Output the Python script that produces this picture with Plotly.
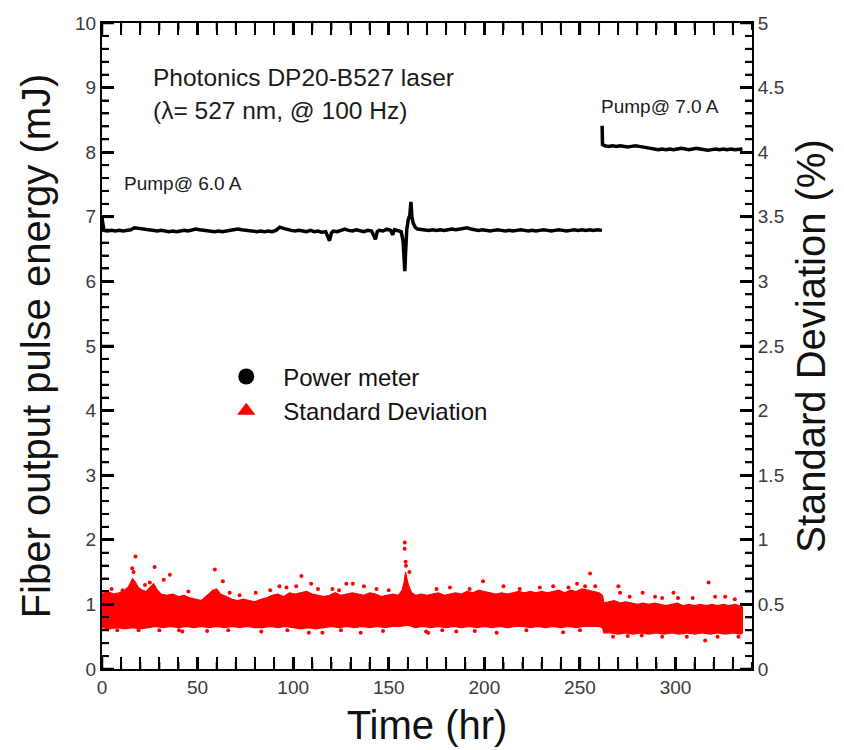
import plotly.graph_objects as go

# ---- Power meter (left axis, mJ) ----
pm1_t = [0, 0.5, 1, 3, 5, 7, 9, 11, 13, 15, 17, 19, 21, 23, 25, 27, 29, 31, 33, 35, 37, 39, 41, 43, 45,
         47, 49, 51, 53, 55, 57, 59, 61, 63, 65, 67, 69, 71, 73, 75, 77, 79, 81, 83, 85, 87, 89, 91, 93,
         95, 97, 99, 101, 103, 105, 107, 109, 111, 113, 115, 117, 118, 119, 120, 121, 123, 125, 127, 129,
         131, 133, 135, 137, 139, 141, 142, 143, 144, 145, 147, 149, 151, 152, 153, 155, 156.5, 157.5,
         158, 158.4, 158.8, 159.4, 160.2, 161, 161.6, 162.1, 162.8, 163.8, 165, 167, 169, 171, 173, 175,
         177, 179, 181, 183, 185, 187, 189, 191, 193, 195, 197, 199, 201, 203, 205, 207, 209, 211, 213,
         215, 217, 219, 221, 223, 225, 227, 229, 231, 233, 235, 237, 239, 241, 243, 245, 247, 249, 251,
         253, 255, 257, 259, 261.5]
pm1_v = [6.98, 6.86, 6.79, 6.78, 6.79, 6.78, 6.79, 6.78, 6.79, 6.80, 6.83, 6.82, 6.81, 6.80, 6.80,
         6.79, 6.78, 6.79, 6.78, 6.77, 6.78, 6.77, 6.78, 6.79, 6.78, 6.79, 6.81, 6.80, 6.79, 6.78, 6.78,
         6.77, 6.78, 6.77, 6.78, 6.79, 6.80, 6.81, 6.80, 6.79, 6.78, 6.78, 6.77, 6.78, 6.77, 6.78, 6.77,
         6.79, 6.84, 6.82, 6.80, 6.79, 6.78, 6.79, 6.78, 6.77, 6.79, 6.77, 6.78, 6.76, 6.77, 6.70, 6.63,
         6.75, 6.78, 6.77, 6.79, 6.81, 6.79, 6.78, 6.80, 6.78, 6.77, 6.79, 6.78, 6.72, 6.65, 6.77, 6.79,
         6.78, 6.81, 6.79, 6.72, 6.80, 6.78, 6.77, 6.62, 6.32, 6.16, 6.45, 6.80, 6.96, 7.02, 7.23, 7.00,
         6.90, 6.84, 6.81, 6.80, 6.79, 6.79, 6.80, 6.79, 6.80, 6.79, 6.80, 6.81, 6.80, 6.81, 6.82, 6.83,
         6.81, 6.80, 6.79, 6.80, 6.79, 6.78, 6.79, 6.80, 6.79, 6.78, 6.79, 6.78, 6.79, 6.80, 6.79, 6.78,
         6.79, 6.78, 6.79, 6.80, 6.79, 6.78, 6.79, 6.80, 6.79, 6.78, 6.79, 6.80, 6.79, 6.80, 6.79, 6.80,
         6.79, 6.80, 6.79, 6.80]
pm2_t = [261.6, 261.8, 263, 265, 267, 269, 271, 273, 275, 277, 279, 281, 283, 285, 287, 289, 291, 293,
         295, 297, 299, 301, 303, 305, 307, 309, 311, 313, 315, 317, 319, 321, 323, 325, 327, 329, 331,
         333, 335]
pm2_v = [8.41, 8.12, 8.10, 8.09, 8.10, 8.09, 8.10, 8.09, 8.08, 8.09, 8.10, 8.09, 8.08, 8.07, 8.06,
         8.05, 8.04, 8.05, 8.04, 8.05, 8.04, 8.05, 8.06, 8.05, 8.04, 8.05, 8.06, 8.05, 8.04, 8.03, 8.04,
         8.05, 8.04, 8.05, 8.04, 8.05, 8.04, 8.05, 8.05]

# ---- Standard deviation (right axis, %) : dense band envelopes + scattered points ----
sd_up_t = [0, 3, 6, 9, 12, 14, 16, 17.5, 19, 21, 23, 25, 27, 29, 31, 34, 37, 40, 43, 46, 49, 52, 55,
           58, 60, 62, 65, 68, 71, 74, 77, 80, 83, 86, 89, 92, 95, 98, 101, 104, 107, 110, 113, 116,
           119, 122, 125, 128, 131, 134, 137, 140, 143, 146, 149, 152, 155, 157, 158, 158.8, 159.6,
           160.5, 162, 164, 167, 170, 173, 176, 179, 182, 185, 188, 191, 194, 197, 200, 203, 206, 209,
           212, 215, 218, 221, 224, 227, 230, 233, 236, 239, 242, 245, 248, 251, 254, 257, 260, 261.8,
           262.5, 265, 268, 271, 274, 277, 280, 283, 286, 289, 292, 295, 298, 301, 304, 307, 310, 313,
           316, 319, 322, 325, 328, 331, 334, 335]
sd_up_v = [0.58, 0.60, 0.58, 0.59, 0.61, 0.64, 0.70, 0.67, 0.63, 0.61, 0.60, 0.63, 0.66, 0.61, 0.58,
           0.57, 0.58, 0.56, 0.57, 0.55, 0.54, 0.53, 0.57, 0.61, 0.62, 0.58, 0.56, 0.54, 0.53, 0.54,
           0.53, 0.52, 0.54, 0.55, 0.57, 0.58, 0.56, 0.59, 0.58, 0.59, 0.60, 0.58, 0.57, 0.56, 0.57,
           0.59, 0.57, 0.58, 0.59, 0.58, 0.57, 0.59, 0.58, 0.56, 0.57, 0.58, 0.57, 0.61, 0.67, 0.75,
           0.69, 0.64, 0.59, 0.57, 0.58, 0.57, 0.58, 0.59, 0.57, 0.58, 0.59, 0.58, 0.60, 0.59, 0.61,
           0.60, 0.59, 0.58, 0.59, 0.58, 0.59, 0.60, 0.59, 0.60, 0.59, 0.60, 0.59, 0.60, 0.61, 0.59,
           0.61, 0.60, 0.62, 0.61, 0.60, 0.59, 0.57, 0.51, 0.52, 0.53, 0.51, 0.52, 0.51, 0.50, 0.51,
           0.50, 0.51, 0.50, 0.49, 0.50, 0.51, 0.49, 0.50, 0.49, 0.50, 0.49, 0.50, 0.49, 0.50, 0.49,
           0.50, 0.49, 0.48]
sd_lo_t = [0, 4, 8, 12, 16, 20, 24, 28, 32, 36, 40, 44, 48, 52, 56, 60, 64, 68, 72, 76, 80, 84, 88, 92,
           96, 100, 104, 108, 112, 116, 120, 124, 128, 132, 136, 140, 144, 148, 152, 156, 160, 164, 168,
           172, 176, 180, 184, 188, 192, 196, 200, 204, 208, 212, 216, 220, 224, 228, 232, 236, 240,
           244, 248, 252, 256, 260, 261.8, 262.5, 266, 270, 274, 278, 282, 286, 290, 294, 298, 302, 306,
           310, 314, 318, 322, 326, 330, 334, 335]
sd_lo_v = [0.32, 0.31, 0.32, 0.31, 0.32, 0.31, 0.32, 0.33, 0.32, 0.33, 0.32, 0.33, 0.32, 0.33, 0.32,
           0.33, 0.32, 0.33, 0.32, 0.33, 0.32, 0.32, 0.33, 0.32, 0.33, 0.32, 0.31, 0.32, 0.31, 0.32,
           0.33, 0.32, 0.33, 0.32, 0.33, 0.32, 0.33, 0.32, 0.33, 0.33, 0.34, 0.32, 0.33, 0.32, 0.33,
           0.32, 0.33, 0.32, 0.33, 0.32, 0.33, 0.32, 0.33, 0.32, 0.33, 0.33, 0.32, 0.33, 0.32, 0.33,
           0.32, 0.33, 0.32, 0.33, 0.33, 0.33, 0.32, 0.28, 0.28, 0.27, 0.28, 0.27, 0.28, 0.27, 0.28,
           0.27, 0.28, 0.27, 0.28, 0.27, 0.28, 0.27, 0.28, 0.27, 0.28, 0.27, 0.28]
sd_pts_t = [17.5, 15.8, 16.5, 27.5, 25.0, 32.3, 35.5, 59.0, 63.2, 92.8, 101.6, 104.3, 109.4, 127.8,
            131.2, 137.0, 158.4, 158.3, 158.8, 159.0, 160.8, 192.3, 199.3, 229.0, 252.7, 255.3, 270.1,
            271.0, 282.8, 289.3, 298.9, 301.3, 317.3, 320.7,
            5.0, 10.8, 22.5, 45.2, 66.8, 72.0, 80.4, 88.0, 96.5, 113.0, 120.5, 124.0, 143.6, 150.0,
            175.0, 182.0, 210.0, 218.5, 236.0, 244.0, 248.5, 258.0, 276.0, 293.0, 309.0, 326.0, 331.0,
            19.1, 40.3, 42.0, 83.3, 108.2, 115.3, 135.3, 169.5, 170.6, 185.3, 206.4, 241.2, 267.3,
            282.3, 305.9, 315.5, 332.9,
            8.0, 30.0, 55.0, 66.0, 97.0, 125.0, 147.0, 178.0, 195.0, 222.0, 250.0, 275.0, 293.0, 322.0]
sd_pts_v = [0.87, 0.78, 0.75, 0.79, 0.67, 0.69, 0.73, 0.77, 0.68, 0.64, 0.64, 0.72, 0.66, 0.66,
            0.66, 0.64, 0.98, 0.93, 0.83, 0.80, 0.75, 0.62, 0.68, 0.63, 0.64, 0.74, 0.64,
            0.59, 0.59, 0.56, 0.59, 0.55, 0.67, 0.56,
            0.62, 0.61, 0.65, 0.60, 0.59, 0.57, 0.59, 0.61, 0.63, 0.62, 0.62, 0.61, 0.62, 0.61,
            0.62, 0.63, 0.64, 0.62, 0.64, 0.63, 0.66, 0.64, 0.56, 0.55, 0.55, 0.56, 0.54,
            0.30, 0.30, 0.29, 0.29, 0.28, 0.28, 0.28, 0.29, 0.28, 0.29, 0.28, 0.285, 0.25,
            0.26, 0.25, 0.22, 0.25,
            0.30, 0.30, 0.295, 0.30, 0.30, 0.30, 0.295, 0.30, 0.295, 0.30, 0.30, 0.255, 0.25, 0.25]

# ---- tick values ----
x_major = [0, 50, 100, 150, 200, 250, 300]
x_minor = [v for v in range(0, 341, 10) if v % 50 != 0]
y_major = list(range(0, 11))
y_minor = [round(i * 0.2, 1) for i in range(0, 51) if i % 5 != 0]
y2_major = [round(i * 0.5, 1) for i in range(0, 11)]
y2_minor = [round(i * 0.1, 1) for i in range(0, 51) if i % 5 != 0]

RED = "#ff0000"
FONT = "Liberation Sans, Arial, sans-serif"
W, H = 844, 750
ML, MR, MT, MB = 102, 92, 23, 81
PW, PH = W - ML - MR, H - MT - MB
XR, YR, Y2R = [0, 340], [0, 10], [0, 5]
MAJ_LEN, MIN_LEN = 12, 7

fig = go.Figure()

fig.add_trace(go.Scatter(
    x=sd_up_t + sd_lo_t[::-1], y=sd_up_v + sd_lo_v[::-1],
    yaxis="y2", mode="lines", fill="toself", fillcolor=RED,
    line=dict(color=RED, width=1.2), showlegend=False, hoverinfo="skip"))
fig.add_trace(go.Scatter(
    x=sd_pts_t, y=sd_pts_v, yaxis="y2", mode="markers",
    marker=dict(color=RED, size=4, symbol="circle"), showlegend=False))
fig.add_trace(go.Scatter(x=pm1_t, y=pm1_v, mode="lines",
                         line=dict(color="black", width=3.5), showlegend=False))
fig.add_trace(go.Scatter(x=pm2_t, y=pm2_v, mode="lines",
                         line=dict(color="black", width=3.5), showlegend=False))
fig.add_trace(go.Scatter(x=[None], y=[None], mode="markers", name="Power meter",
                         marker=dict(color="black", size=20, symbol="circle")))
fig.add_trace(go.Scatter(x=[None], y=[None], mode="markers", name="Standard Deviation",
                         marker=dict(color=RED, size=20, symbol="triangle-up")))


# inside tick marks drawn as line traces (pixel length converted to axis units)
def add_ticks(xs, ys, axis, wd):
    fig.add_trace(go.Scatter(x=xs, y=ys, yaxis=axis, mode="lines", showlegend=False,
                             hoverinfo="skip", cliponaxis=False,
                             line=dict(color="black", width=wd)))


for vals, ln, wd in ((x_major, MAJ_LEN, 2.5), (x_minor, MIN_LEN, 2)):
    d = ln / PH * (YR[1] - YR[0])
    xs, ys = [], []
    for v in vals:
        xs += [v, v, None, v, v, None]
        ys += [YR[0], YR[0] + d, None, YR[1], YR[1] - d, None]
    add_ticks(xs, ys, "y", wd)
for vals, ln, wd in ((y_major, MAJ_LEN, 2.5), (y_minor, MIN_LEN, 2)):
    d = ln / PW * (XR[1] - XR[0])
    xs, ys = [], []
    for v in vals:
        xs += [XR[0], XR[0] + d, None]
        ys += [v, v, None]
    add_ticks(xs, ys, "y", wd)
for vals, ln, wd in ((y2_major, MAJ_LEN, 2.5), (y2_minor, MIN_LEN, 2)):
    d = ln / PW * (XR[1] - XR[0])
    xs, ys = [], []
    for v in vals:
        xs += [XR[1], XR[1] - d, None]
        ys += [v, v, None]
    add_ticks(xs, ys, "y2", wd)

titlefont = dict(family=FONT, size=40, color="#111111")
tickfont = dict(family=FONT, size=19, color="#3a3a3a")
minor_style = dict(ticks="inside", ticklen=MIN_LEN, tickwidth=2, tickcolor="black")

fig.update_layout(
    template="none",
    width=W, height=H,
    margin=dict(l=ML, r=MR, t=MT, b=MB),
    paper_bgcolor="white", plot_bgcolor="white",
    font=dict(family=FONT, size=19, color="#3a3a3a"),
    showlegend=True,
    legend=dict(x=0.165, y=0.487, xanchor="left", yanchor="top",
                font=dict(family=FONT, size=24, color="#111111"),
                bgcolor="rgba(0,0,0,0)", itemwidth=64, tracegroupgap=0),
    xaxis=dict(range=XR, tickmode="array", tickvals=x_major,
               ticks="inside", ticklen=MAJ_LEN, tickwidth=2.5, tickcolor="black",
               minor=dict(tickmode="array", tickvals=x_minor, **minor_style),
               showline=True, linecolor="black", linewidth=2, mirror="allticks", showgrid=False,
               zeroline=False, tickfont=tickfont,
               title=dict(text="Time (hr)", font=titlefont, standoff=14)),
    yaxis=dict(range=YR, tickmode="array", tickvals=y_major,
               ticks="inside", ticklen=MAJ_LEN, tickwidth=2.5, tickcolor="black",
               minor=dict(tickmode="array", tickvals=y_minor, **minor_style),
               showline=True, linecolor="black", linewidth=2, showgrid=False,
               zeroline=False, tickfont=tickfont,
               title=dict(text="Fiber output pulse energy (mJ)", font=titlefont, standoff=12)),
    yaxis2=dict(range=Y2R, tickmode="array", tickvals=y2_major,
                ticktext=[("%g" % v) for v in y2_major],
                overlaying="y", side="right",
                ticks="inside", ticklen=MAJ_LEN, tickwidth=2.5, tickcolor="black",
                minor=dict(tickmode="array", tickvals=y2_minor, **minor_style),
                showline=True, linecolor="black", linewidth=2, showgrid=False,
                zeroline=False, tickfont=tickfont,
                title=dict(text="Standard Deviation (%)", font=titlefont, standoff=14)),
)

ann_font = dict(family=FONT, size=24.5, color="#1a1a1a")
fig.add_annotation(x=25.5, y=9.15, xref="x", yref="y", text="Photonics DP20-B527 laser",
                   showarrow=False, xanchor="left", yanchor="middle", font=ann_font)
fig.add_annotation(x=25.5, y=8.65, xref="x", yref="y", text="(λ= 527 nm, @ 100 Hz)",
                   showarrow=False, xanchor="left", yanchor="middle", font=ann_font)
fig.add_annotation(x=10.5, y=7.52, xref="x", yref="y", text="Pump@ 6.0 A",
                   showarrow=False, xanchor="left", yanchor="middle",
                   font=dict(family=FONT, size=19, color="#1a1a1a"))
fig.add_annotation(x=260.0, y=8.71, xref="x", yref="y", text="Pump@ 7.0 A",
                   showarrow=False, xanchor="left", yanchor="middle",
                   font=dict(family=FONT, size=19, color="#1a1a1a"))

fig.write_html("out.html")
